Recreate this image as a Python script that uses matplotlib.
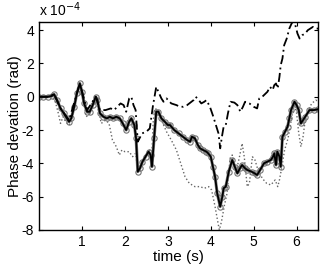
import matplotlib
matplotlib.use("Agg")
import matplotlib.pyplot as plt

plt.rcParams['font.family'] = ['Liberation Sans', 'DejaVu Sans']

# solid line with circles (values in 1e-4 rad)
t_solid = [0.0, 0.1, 0.2, 0.3, 0.35, 0.42, 0.5, 0.58, 0.65, 0.7, 0.75, 0.82, 0.88, 0.95,
           1.0, 1.05, 1.12, 1.18, 1.25, 1.32, 1.36, 1.42, 1.5, 1.58, 1.65, 1.72, 1.8, 1.88,
           1.95, 2.03, 2.1, 2.15, 2.22, 2.26, 2.3, 2.35, 2.41, 2.48, 2.55, 2.6, 2.63, 2.68,
           2.73, 2.78, 2.85, 2.93, 3.0, 3.05, 3.15, 3.25, 3.35, 3.45, 3.52, 3.56, 3.63, 3.7,
           3.75, 3.82, 3.9, 3.94, 4.0, 4.05, 4.1, 4.15, 4.22, 4.27, 4.3, 4.35, 4.42, 4.5,
           4.56, 4.62, 4.68, 4.73, 4.8, 4.85, 4.95, 5.02, 5.08, 5.15, 5.24, 5.32, 5.4, 5.45,
           5.48, 5.52, 5.55, 5.6, 5.63, 5.67, 5.73, 5.79, 5.83, 5.87, 5.95, 6.0, 6.05, 6.1,
           6.15, 6.2, 6.3, 6.4, 6.5]
v_solid = [0.0, 0.0, 0.0, 0.05, 0.15, -0.2, -0.7, -1.0, -1.3, -1.5, -1.3, -0.6, 0.2, 0.8,
           0.3, -0.4, -0.9, -0.9, -0.5, 0.0, -0.2, -1.0, -1.2, -1.3, -1.2, -1.3, -1.2, -1.3,
           -1.6, -2.0, -1.5, -1.3, -1.7, -2.5, -4.5, -4.3, -3.9, -3.6, -3.3, -3.5, -4.2, -2.5,
           -0.9, -0.9, -1.3, -1.5, -1.7, -1.7, -2.0, -2.2, -2.4, -2.6, -2.7, -2.4, -2.5, -2.9,
           -3.1, -3.2, -3.3, -3.4, -3.6, -4.2, -4.8, -5.8, -6.6, -6.0, -5.5, -5.4, -4.5, -3.8,
           -4.2, -4.6, -4.3, -4.1, -4.3, -4.4, -4.5, -4.6, -4.7, -4.4, -4.0, -3.9, -3.8, -3.6,
           -3.4, -4.1, -3.3, -3.6, -4.2, -2.4, -2.1, -1.8, -1.3, -0.8, -0.3, -0.5, -0.8, -1.6,
           -1.4, -1.2, -0.8, -0.8, -0.75]

# dotted gray line
t_dot = [0.0, 0.2, 0.3, 0.38, 0.45, 0.5, 0.56, 0.62, 0.7, 0.78, 0.88, 0.95, 1.02, 1.1,
         1.18, 1.25, 1.33, 1.38, 1.45, 1.55, 1.63, 1.71, 1.8, 1.87, 1.93, 2.0, 2.1, 2.18,
         2.25, 2.3, 2.38, 2.45, 2.52, 2.58, 2.62, 2.66, 2.7, 2.76, 2.85, 2.97, 3.08, 3.2,
         3.3, 3.4, 3.5, 3.63, 3.75, 3.85, 3.95, 4.02, 4.1, 4.17, 4.2, 4.25, 4.32, 4.38,
         4.45, 4.5, 4.55, 4.6, 4.67, 4.73, 4.78, 4.85, 4.9, 4.97, 5.03, 5.1, 5.2, 5.3,
         5.4, 5.5, 5.56, 5.6, 5.65, 5.72, 5.8, 5.85, 5.9, 5.95, 6.0, 6.05, 6.1, 6.15,
         6.2, 6.28, 6.35, 6.45, 6.5]
v_dot = [0.0, 0.0, 0.0, -0.3, -1.0, -1.6, -1.2, -1.5, -1.7, -1.2, 0.1, 0.7, 0.0, -1.2,
         -1.0, -0.6, -0.3, -0.8, -1.6, -1.4, -1.6, -2.6, -3.0, -3.5, -3.2, -3.3, -3.3, -3.6,
         -3.4, -4.4, -4.1, -3.7, -3.4, -3.2, -4.0, -1.5, -0.7, -0.8, -1.4, -2.1, -2.6, -3.2,
         -4.0, -4.8, -5.2, -5.4, -5.4, -5.5, -5.4, -5.6, -6.6, -7.6, -8.0, -7.5, -6.5, -5.8,
         -3.7, -3.5, -4.0, -4.4, -3.6, -2.8, -3.6, -5.4, -5.2, -3.6, -3.8, -4.4, -4.9, -5.2,
         -5.3, -5.0, -5.4, -5.0, -4.3, -3.2, -2.5, -1.8, -1.0, -0.5, -1.0, -2.2, -3.0, -2.4,
         -1.4, -0.8, -0.4, -0.2, -0.3]

# dash-dot black line
t_dd = [0.0, 0.2, 0.35, 0.5, 0.7, 0.95, 1.12, 1.32, 1.42, 1.55, 1.67, 1.75, 1.82, 1.9,
        1.97, 2.03, 2.1, 2.15, 2.2, 2.25, 2.3, 2.4, 2.5, 2.58, 2.65, 2.73, 2.78, 2.85,
        2.9, 2.97, 3.08, 3.2, 3.28, 3.36, 3.45, 3.55, 3.6, 3.65, 3.72, 3.78, 3.85, 3.9,
        3.98, 4.06, 4.12, 4.18, 4.22, 4.26, 4.3, 4.35, 4.4, 4.46, 4.55, 4.62, 4.69, 4.75,
        4.8, 4.9, 5.0, 5.08, 5.13, 5.2, 5.28, 5.32, 5.38, 5.44, 5.48, 5.52, 5.56, 5.6,
        5.63, 5.67, 5.71, 5.77, 5.83, 5.9, 5.96, 6.02, 6.07, 6.13, 6.2, 6.26, 6.32, 6.38,
        6.45, 6.5]
v_dd = [0.0, 0.0, 0.15, -0.7, -1.4, 0.8, -0.8, 0.0, -0.8, -0.8, -0.7, -0.8, -0.6, -0.4,
        -0.5, -0.9, -0.1, 0.0, -0.5, -0.8, -2.7, -2.2, -2.1, -1.9, -0.6, 0.6, 0.3, -0.1,
        -0.3, -0.1, -0.4, -0.5, -0.6, -0.6, -0.5, -0.3, -0.2, 0.0, -0.2, -0.4, -0.3, -0.2,
        -0.6, -1.2, -1.7, -2.2, -3.1, -2.4, -1.8, -1.7, -1.0, -0.3, -0.35, -0.5, -0.9, -0.6,
        -0.3, -0.4, -0.6, -0.7, -0.1, 0.0, 0.2, 0.3, 0.6, 0.4, 0.7, 0.8, 0.5, 1.2,
        1.9, 2.3, 3.1, 3.5, 4.1, 4.5, 4.4, 3.8, 3.5, 3.7, 3.8, 4.0, 4.1, 4.2,
        4.1, 4.1]

yticks = [-8, -6, -4, -2, 0, 2, 4]
xticks = [1, 2, 3, 4, 5, 6]

fig = plt.figure(figsize=(3.2, 2.67), dpi=100)
ax = fig.add_axes([0.122, 0.139, 0.872, 0.779])

# plotted in units of 1e-4, the multiplier is written above the axis
ax.plot(t_dot, v_dot, ':', color='0.4', lw=1.0)
ax.plot(t_solid, v_solid, '-', color='0.5', lw=2.2,
        marker='o', ms=3.8, mfc='none', mec='0.45', mew=0.8)
ax.plot(t_solid, v_solid, '-', color='k', lw=1.3)
ax.plot(t_dd, v_dd, color='k', lw=1.3, dashes=[5, 2, 1, 2])

ax.set_xlim(0, 6.5)
ax.set_ylim(-8, 4.5)
ax.set_xticks(xticks)
ax.set_yticks(yticks)
ax.set_yticklabels([str(v) if v >= 0 else '-' + str(-v) for v in yticks])

ax.text(0.0, 1.015, r'x 10$^{-4}$', transform=ax.transAxes, fontsize=10,
        ha='left', va='bottom')

ax.tick_params(direction='in', length=3, labelsize=10, top=True, right=True)
for s in ax.spines.values():
    s.set_linewidth(1.0)

ax.set_xlabel('time (s)', fontsize=11, labelpad=1)
ax.set_ylabel('Phase devation (rad)', fontsize=11, labelpad=0)

fig.savefig('out.png', dpi=100)
